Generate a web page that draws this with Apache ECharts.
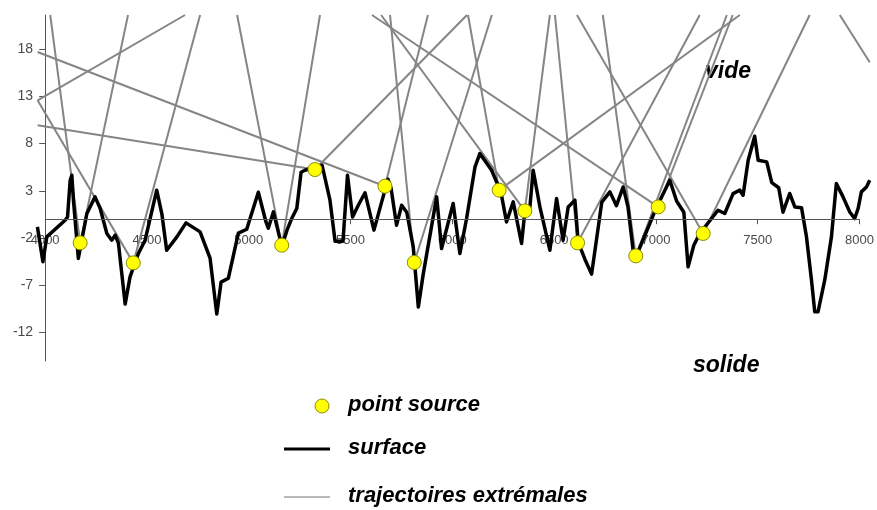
<!DOCTYPE html>
<html lang="fr">
<head>
<meta charset="UTF-8">
<title>surface</title>
<script src="https://cdn.jsdelivr.net/npm/echarts@6/dist/echarts.min.js"></script>
<style>
  html, body { margin: 0; padding: 0; background: #fff; }
</style>
</head>
<body>
<div id="main" style="width:877px;height:510px;"></div>
<script type="text/javascript">
// surface profile
var surfaceX = [3962, 3989, 4008, 4098, 4110, 4123, 4131, 4139, 4163, 4205, 4245, 4270, 4303, 4327, 4344, 4360,
  4393, 4417, 4458, 4491, 4548, 4573, 4597, 4647, 4692, 4761, 4810, 4843, 4864, 4900, 4949, 4990,
  5047, 5085, 5096, 5121, 5149, 5163, 5188, 5211, 5236, 5257, 5276, 5360, 5399, 5424, 5463, 5485,
  5510, 5538, 5571, 5615, 5653, 5684, 5699, 5726, 5751, 5776, 5808, 5833, 5857, 5923, 5947, 6004,
  6037, 6070, 6111, 6135, 6193, 6217, 6234, 6266, 6299, 6340, 6356, 6381, 6397, 6430, 6479, 6512,
  6544, 6569, 6602, 6618, 6651, 6684, 6734, 6774, 6806, 6839, 6863, 6888, 6905, 7004, 7068, 7102,
  7137, 7158, 7186, 7215, 7305, 7338, 7379, 7412, 7428, 7453, 7485, 7502, 7544, 7569, 7603, 7624,
  7657, 7682, 7715, 7739, 7764, 7780, 7796, 7829, 7862, 7886, 7919, 7952, 7976, 7993, 8009, 8034, 8050];
var surfaceY = [-0.81, -4.51, -1.87, -0.11, 0.24, 4.12, 4.65, 2.01, -4.15, 0.60, 2.36, 1.16, -1.51, -2.22, -1.69, -2.54,
  -8.98, -6.10, -3.63, -2.22, 3.07, 0.60, -3.28, -1.87, -0.39, -1.34, -4.12, -10.04, -6.66, -6.24, -1.48, -1.06,
  2.85, -0.32, -0.95, 0.77, -1.69, -2.85, -1.16, 0.07, 1.13, 4.97, 5.18, 5.71, 2.01, -2.33, -2.33, 4.65,
  0.24, 1.48, 2.80, -1.16, 1.83, 4.23, 3.28, -0.63, 1.48, 0.74, -2.93, -9.30, -5.81, 2.36, -3.10, 1.66,
  -3.63, 0.07, 5.50, 6.94, 5.18, 3.94, 3.38, -0.29, 1.83, -2.57, 0.77, 1.30, 5.18, 1.30, -3.28, 2.19,
  -2.22, 1.30, 2.01, -2.43, -4.23, -5.81, 1.80, 2.89, 1.43, 3.41, 1.27, -3.28, -3.81, 1.30, 4.12, 1.90,
  0.74, -5.04, -2.75, -1.51, 0.95, 0.60, 2.70, 3.07, 2.54, 6.24, 8.77, 6.24, 6.06, 3.86, 3.33, 0.74,
  2.72, 1.30, 1.22, -1.80, -6.45, -9.80, -9.80, -6.45, -1.87, 3.77, 2.36, 0.77, 0.07, 1.13, 2.89, 3.41, 4.12];

// point sources
var sourceX = [4172, 4433, 5162, 5325, 5669, 5813, 6230, 6356, 6615, 6901, 7011, 7232];
var sourceY = [-2.50, -4.62, -2.75, 5.25, 3.49, -4.58, 3.07, 0.88, -2.50, -3.88, 1.30, -1.51];

// extremal trajectories: start (x1,y1) -> end (x2,y2)
var trajX1 = [4172, 4172, 4433, 4433, 5162, 5162, 5325, 5325, 5669, 5669, 5813, 5813, 6230,
  6230, 6356, 6356, 6615, 6615, 6901, 6901, 7011, 7011, 7232, 7232, 3963, 7903];
var trajY1 = [-2.50, -2.50, -4.62, -4.62, -2.75, -2.75, 5.25, 5.25, 3.49, 3.49, -4.58, -4.58, 3.07,
  3.07, 0.88, 0.88, -2.50, -2.50, -3.88, -3.88, 1.30, 1.30, -1.51, -1.51, 12.58, 21.6];
var trajX2 = [4025, 4407, 3963, 4761, 4943, 5350, 3963, 6072, 3963, 5880, 5694, 6194, 6077,
  7412, 5650, 6479, 6504, 7215, 6739, 7348, 5605, 7377, 6612, 7755, 4687, 8050];
var trajY2 = [21.6, 21.6, 12.58, 21.6, 21.6, 21.6, 9.94, 21.6, 17.69, 21.6, 21.6, 21.6, 21.6,
  21.6, 21.6, 21.6, 21.6, 21.6, 21.6, 21.6, 21.6, 21.6, 21.6, 21.6, 21.6, 16.6];

var xTicks = [4000, 4500, 5000, 5500, 6000, 6500, 7000, 7500, 8000];
var yTicks = [-12, -7, -2, 3, 8, 13, 18];

var myChart = echarts.init(document.getElementById('main'));

var xMin = 3960, xMax = 8050, yMin = -15, yMax = 21.6;
var gridLeft = 37, gridRight = 7, gridTop = 15, gridBottom = 149;
var plotW = 877 - gridLeft - gridRight, plotH = 510 - gridTop - gridBottom;
// y axis sits at x = 4000, x axis at y = 0
var yAxisOffset = -(4000 - xMin) / (xMax - xMin) * plotW;
var xAxisOffset = -(0 - yMin) / (yMax - yMin) * plotH;

var series = [];
for (var i = 0; i < trajX1.length; i++) {
    series.push({
        type: 'line',
        data: [[trajX1[i], trajY1[i]], [trajX2[i], trajY2[i]]],
        showSymbol: false,
        silent: true,
        lineStyle: { color: '#858585', width: 2 },
        z: 2
    });
}
series.push({
    name: 'surface',
    type: 'line',
    data: surfaceX.map(function (x, i) { return [x, surfaceY[i]]; }),
    showSymbol: false,
    lineStyle: { color: '#000', width: 3.5, join: 'round' },
    markLine: {
        silent: true,
        symbol: 'none',
        label: { show: false },
        lineStyle: { color: '#555', width: 1, type: 'solid' },
        data: [[{ coord: [4000, 0] }, { coord: [8000, 0] }]]
    },
    z: 3
});
series.push({
    name: 'point source',
    type: 'scatter',
    data: sourceX.map(function (x, i) { return [x, sourceY[i]]; }),
    symbolSize: 14,
    itemStyle: { color: '#ffff00', borderColor: '#8c8c00', borderWidth: 1, opacity: 1 },
    z: 5
});

var legendFont = 'italic bold 22px "Liberation Sans", Arial, sans-serif';

option = {
    animation: false,
    backgroundColor: '#fff',
    grid: { left: gridLeft, right: gridRight, top: gridTop, bottom: gridBottom },
    xAxis: {
        type: 'value',
        min: xMin,
        max: xMax,
        offset: xAxisOffset,
        axisLine: { show: false, onZero: false },
        axisTick: { show: true, length: 5, customValues: xTicks, lineStyle: { color: '#555' } },
        axisLabel: {
            color: '#4a4a4a', fontSize: 13, margin: 15, fontFamily: 'Liberation Sans, Arial',
            customValues: xTicks,
            formatter: function (v) { return String(v); }
        },
        splitLine: { show: false }
    },
    yAxis: {
        type: 'value',
        min: yMin,
        max: yMax,
        offset: yAxisOffset,
        axisLine: { show: true, onZero: false, lineStyle: { color: '#555', width: 1 } },
        axisTick: { show: true, length: 6, customValues: yTicks, lineStyle: { color: '#555' } },
        axisLabel: { color: '#4a4a4a', fontSize: 14, margin: 12, fontFamily: 'Liberation Sans, Arial', customValues: yTicks },
        splitLine: { show: false }
    },
    graphic: [
        { type: 'text', left: 705, top: 60, style: { text: 'vide', font: 'italic bold 23px "Liberation Sans", Arial, sans-serif', fill: '#000' } },
        { type: 'text', left: 693, top: 354, style: { text: 'solide', font: 'italic bold 23px "Liberation Sans", Arial, sans-serif', fill: '#000' } },
        { type: 'circle', shape: { cx: 322, cy: 406, r: 7 }, style: { fill: '#ffff00', stroke: '#8c8c00', lineWidth: 1 } },
        { type: 'text', left: 348, top: 394, style: { text: 'point source', font: legendFont, fill: '#000' } },
        { type: 'line', shape: { x1: 284, y1: 449, x2: 330, y2: 449 }, style: { stroke: '#000', lineWidth: 3 } },
        { type: 'text', left: 348, top: 437, style: { text: 'surface', font: legendFont, fill: '#000' } },
        { type: 'line', shape: { x1: 284, y1: 497, x2: 330, y2: 497 }, style: { stroke: '#a0a0a0', lineWidth: 1.5 } },
        { type: 'text', left: 348, top: 485, style: { text: 'trajectoires extrémales', font: legendFont, fill: '#000' } }
    ],
    series: series
};
myChart.setOption(option);
</script>
</body>
</html>
